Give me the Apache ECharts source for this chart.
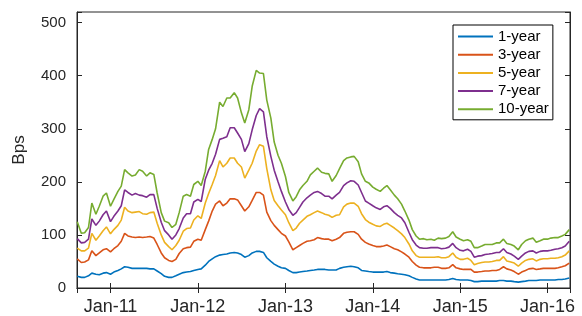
<!DOCTYPE html>
<html>
<head>
<meta charset="utf-8">
<script src="https://cdn.jsdelivr.net/npm/echarts@6/dist/echarts.min.js"></script>
<style>
  html, body { margin: 0; padding: 0; background: #fff; }
  #chart { width: 582px; height: 316px; }
</style>
</head>
<body>
<div id="chart"></div>
<script>
// sampling grid: 1st and 15th of each month, 2010-08-15 .. 2016-04-01
const startDate = [2010, 8, 15];
const pointCount = 136;

const seriesNames = ["1-year", "3-year", "5-year", "7-year", "10-year"];
const seriesColors = ["#0072BD", "#D95319", "#EDB120", "#7E2F8E", "#77AC30"];

const oneYear = [
  22, 20, 20, 23, 28, 26, 25, 28, 29, 26, 30, 33, 36, 40, 39, 37, 37, 37, 37, 37, 36, 36, 32, 27, 22, 20, 20, 23, 26, 29, 30, 31, 33,
  35, 36, 43, 50, 55, 59, 62, 63, 64, 66, 67, 66, 63, 58, 61, 66, 69, 69, 67, 57, 50, 45, 41, 38, 37, 33, 29, 29, 30, 31, 32, 33, 34,
  35, 35, 35, 34, 34, 34, 37, 39, 40, 41, 40, 38, 33, 32, 31, 30, 30, 30, 30, 31, 29, 28, 27, 26, 25, 23, 20, 17, 15, 15, 15, 15, 15,
  15, 15, 15, 16, 18, 16, 15, 15, 15, 14, 12, 12, 13, 13, 13, 13, 13, 14, 14, 13, 13, 12, 11, 12, 13, 14, 14, 14, 15, 15, 15, 15, 15, 16, 16, 17, 19
];
const threeYear = [
  55, 48, 49, 53, 70, 61, 66, 72, 74, 68, 74, 80, 88, 103, 98, 96, 95, 96, 95, 96, 97, 94, 82, 66, 57, 52, 50, 54, 65, 74, 76, 77, 88,
  92, 90, 110, 126, 145, 158, 164, 155, 160, 168, 168, 166, 155, 145, 153, 165, 180, 180, 175, 143, 127, 118, 110, 103, 98, 87, 72, 76, 80, 84, 88, 89, 91,
  95, 93, 92, 92, 89, 92, 95, 103, 105, 106, 106, 101, 92, 86, 83, 80, 78, 78, 79, 81, 78, 74, 72, 68, 64, 58, 50, 43, 39, 38, 38, 38, 39,
  39, 37, 37, 38, 44, 38, 36, 35, 35, 35, 30, 30, 31, 32, 32, 33, 33, 35, 40, 36, 34, 31, 26, 30, 33, 36, 37, 35, 36, 37, 37, 37, 37, 38, 40, 42, 47
];
const fiveYear = [
  75, 70, 70, 75, 103, 90, 98, 108, 115, 102, 110, 118, 128, 152, 145, 142, 143, 144, 140, 139, 142, 143, 122, 100, 86, 78, 72, 80, 90, 107, 112, 113, 128,
  136, 131, 160, 178, 195, 212, 240, 228, 235, 245, 245, 235, 228, 207, 222, 235, 258, 270, 267, 225, 185, 165, 155, 147, 138, 123, 108, 113, 122, 128, 135, 138, 142,
  145, 142, 139, 137, 133, 137, 138, 153, 158, 160, 160, 154, 140, 129, 124, 120, 117, 116, 120, 122, 118, 113, 108, 102, 95, 83, 70, 61, 58, 58, 58, 58, 58,
  59, 57, 57, 59, 66, 58, 54, 54, 56, 52, 44, 46, 48, 49, 49, 50, 52, 52, 59, 51, 49, 47, 41, 47, 52, 54, 55, 51, 54, 55, 55, 56, 56, 57, 59, 62, 70
];
const sevenYear = [
  93, 85, 86, 92, 130, 118, 126, 138, 145, 125, 135, 145, 155, 185, 180, 175, 178, 175, 174, 171, 176, 176, 150, 124, 108, 100, 92, 100, 112, 132, 140, 140, 162,
  167, 163, 205, 222, 235, 252, 280, 282, 285, 302, 302, 292, 280, 257, 272, 298, 325, 338, 332, 285, 248, 222, 200, 182, 162, 148, 137, 142, 152, 162, 170, 175, 180,
  182, 178, 173, 173, 168, 175, 180, 193, 198, 202, 201, 194, 180, 164, 160, 155, 151, 148, 153, 155, 150, 142, 137, 132, 123, 105, 91, 81, 76, 75, 75, 76, 76,
  76, 74, 75, 77, 84, 76, 71, 70, 73, 69, 58, 60, 61, 63, 64, 65, 67, 67, 74, 67, 64, 60, 54, 60, 66, 69, 70, 66, 69, 70, 70, 71, 73, 74, 76, 79, 88
];
const tenYear = [
  125, 103, 104, 114, 160, 139, 154, 173, 179, 154, 167, 182, 192, 223, 217, 211, 213, 223, 220, 211, 217, 214, 179, 142, 126, 123, 114, 120, 142, 173, 176, 173, 195,
  201, 193, 220, 261, 280, 300, 350, 342, 358, 358, 368, 358, 330, 311, 336, 380, 410, 405, 404, 354, 320, 275, 250, 235, 210, 180, 164, 172, 185, 193, 201, 213, 220,
  226, 218, 216, 215, 201, 212, 225, 240, 245, 247, 248, 238, 215, 201, 198, 190, 186, 182, 188, 193, 185, 175, 168, 158, 145, 128, 110, 98, 92, 93, 91, 92, 90,
  94, 93, 94, 97, 106, 96, 92, 89, 91, 88, 76, 76, 79, 82, 82, 82, 85, 85, 92, 84, 82, 79, 72, 82, 89, 92, 94, 86, 89, 92, 92, 94, 95, 95, 98, 101, 110
];

const allValues = [oneYear, threeYear, fiveYear, sevenYear, tenYear];
const monthNames = ["Jan", "Feb", "Mar", "Apr", "May", "Jun", "Jul", "Aug", "Sep", "Oct", "Nov", "Dec"];

// build the dates (1st / 15th)
let dates = [];
let y = startDate[0], mo = startDate[1], d = startDate[2];
for (let i = 0; i < pointCount; i++) {
  dates.push(new Date(y, mo - 1, d).getTime());
  if (d === 1) {
    d = 15;
  } else {
    d = 1;
    mo++;
    if (mo > 12) { mo = 1; y++; }
  }
}

const xMin = new Date(2010, 7, 14).getTime();
const xMax = new Date(2016, 3, 4).getTime();
const yearMs = 365.25 * 24 * 3600 * 1000;
const textColor = "#262626";
const fontFamily = "Liberation Sans, Arial, sans-serif";

let chart = echarts.init(document.getElementById("chart"), null, { renderer: "canvas" });

let series = seriesNames.map((name, k) => ({
  name: name,
  type: "line",
  xAxisIndex: 0,
  yAxisIndex: 0,
  showSymbol: false,
  symbol: "none",
  smooth: false,
  animation: false,
  color: seriesColors[k],
  lineStyle: { width: 1.6, color: seriesColors[k] },
  data: dates.map((t, i) => [t, allValues[k][i]])
}));

let option = {
  animation: false,
  grid: {
    left: 77, right: 12, top: 12, bottom: 28,
    show: true, borderColor: textColor, borderWidth: 1, backgroundColor: "#fff"
  },
  legend: {
    orient: "vertical",
    left: 453, top: 25,
    padding: [4, 4, 3, 4],
    itemWidth: 35, itemHeight: 14, itemGap: 3.2,
    borderColor: "#000", borderWidth: 1, backgroundColor: "#fff",
    itemStyle: { opacity: 0 },
    lineStyle: { width: 2 },
    textStyle: { fontSize: 15, lineHeight: 14, color: "#000", fontFamily: fontFamily },
    data: seriesNames
  },
  xAxis: [
    {
      type: "time", min: xMin, max: xMax,
      minInterval: yearMs, maxInterval: yearMs,
      axisLine: { show: true, lineStyle: { color: textColor, width: 1 } },
      axisTick: { show: true, inside: true, length: 5, lineStyle: { color: textColor } },
      splitLine: { show: false },
      axisLabel: {
        color: textColor, fontSize: 18, fontFamily: fontFamily, margin: 10,
        hideOverlap: false,
        formatter: function (val) {
          let dt = new Date(val);
          return monthNames[dt.getMonth()] + "-" + String(dt.getFullYear()).slice(2);
        }
      }
    },
    {
      type: "time", min: xMin, max: xMax, position: "top",
      minInterval: yearMs, maxInterval: yearMs,
      axisLine: { show: true, lineStyle: { color: textColor, width: 1 } },
      axisTick: { show: true, inside: true, length: 5, lineStyle: { color: textColor } },
      axisLabel: { show: false },
      splitLine: { show: false }
    }
  ],
  yAxis: [
    {
      type: "value", min: 0, max: 520, interval: 100,
      name: "Bps", nameLocation: "middle", nameGap: 49,
      nameTextStyle: { color: textColor, fontSize: 17, fontFamily: fontFamily },
      axisLine: { show: true, lineStyle: { color: textColor, width: 1 } },
      axisTick: { show: true, inside: true, length: 5, lineStyle: { color: textColor } },
      splitLine: { show: false },
      axisLabel: {
        color: textColor, fontSize: 15, fontFamily: fontFamily, margin: 11,
        formatter: function (v) { return v % 100 === 0 ? String(v) : ""; }
      }
    },
    {
      type: "value", min: 0, max: 520, interval: 100, position: "right",
      axisLine: { show: true, lineStyle: { color: textColor, width: 1 } },
      axisTick: { show: true, inside: true, length: 5, lineStyle: { color: textColor } },
      axisLabel: { show: false },
      splitLine: { show: false }
    }
  ],
  series: series
};

chart.setOption(option);
</script>
</body>
</html>
